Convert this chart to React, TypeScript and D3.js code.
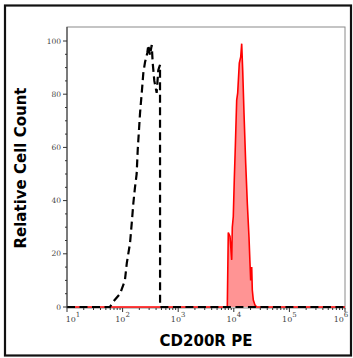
import React, { useEffect, useRef } from "react";
import * as d3 from "d3";

// isotype control (black dashed), fluorescence vs relative count
const isoX = [10, 59, 68, 90, 110, 119, 136, 146, 156, 167, 179, 187, 197, 206, 221, 236, 253, 278, 290, 311, 334, 348, 372, 410, 438, 471, 472, 1000000];
const isoY = [0, 0, 2, 5, 10, 16.5, 24, 31.5, 39, 45, 50, 59, 66.5, 73, 80.5, 88, 92, 95.5, 98.5, 94.7, 98.5, 91.7, 85, 80.5, 89, 91, 0, 0];

// CD200R PE stained (red filled)
const stainX = [10, 7640, 7960, 8550, 9170, 9400, 9790, 10200, 10640, 11270, 11750, 12560, 13310, 13870, 14460, 15250, 16370, 17500, 18760, 19550, 20120, 20990, 21520, 22440, 24060, 25800, 1000000];
const stainY = [0, 0, 28, 26.5, 17.7, 30, 34, 47.7, 60, 77.8, 80.5, 91.7, 94, 99, 89, 73, 54, 39, 26.3, 16.5, 10, 15, 6.4, 2.6, 0.7, 0, 0];

const xTicks = [10, 100, 1000, 10000, 100000, 1000000];
const yTicks = [0, 20, 40, 60, 80, 100];

const xTitle = "CD200R PE";
const yTitle = "Relative Cell Count";

const Chart = ({ width, height }: { width: number; height: number }) => {
  const svgRef = useRef<SVGSVGElement>(null);

  useEffect(() => {
    const svg = d3.select(svgRef.current);
    svg.selectAll("*").remove();

    const left = 67, right = 345, top = 27, bottom = 308;

    const x = d3.scaleLog().domain([10, 1e6]).range([left, right]);
    const y = d3.scaleLinear().domain([0, 100]).range([307, 41]);

    // outer border
    svg.append("rect")
      .attr("x", 5).attr("y", 5.5)
      .attr("width", 346).attr("height", 350)
      .attr("fill", "none").attr("stroke", "#111").attr("stroke-width", 2.2);

    // plot frame
    svg.append("rect")
      .attr("x", left).attr("y", top)
      .attr("width", right - left).attr("height", bottom - top)
      .attr("fill", "none").attr("stroke", "#8a8a8a").attr("stroke-width", 1);

    const line = d3.line<number>()
      .x((_, i) => x(stainX[i]))
      .y((d) => y(d));
    const area = d3.area<number>()
      .x((_, i) => x(stainX[i]))
      .y0(y(0))
      .y1((d) => y(d));

    svg.append("path").attr("d", area(stainY)).attr("fill", "#ff9494");
    svg.append("path").attr("d", line(stainY))
      .attr("fill", "none").attr("stroke", "#ff0000").attr("stroke-width", 1.6);

    const isoLine = d3.line<number>()
      .x((_, i) => x(isoX[i]))
      .y((d) => y(d));
    svg.append("path").attr("d", isoLine(isoY))
      .attr("fill", "none").attr("stroke", "#000")
      .attr("stroke-width", 2.2).attr("stroke-dasharray", "8,4.5");

    // left axis line
    svg.append("line")
      .attr("x1", left).attr("x2", left).attr("y1", top).attr("y2", bottom)
      .attr("stroke", "#333").attr("stroke-width", 1);

    // y ticks
    const yMinor = d3.range(0, 101, 5);
    svg.append("g").selectAll("line").data(yMinor).join("line")
      .attr("x1", (d) => (d % 20 === 0 ? left - 4 : left - 2))
      .attr("x2", left)
      .attr("y1", (d) => y(d)).attr("y2", (d) => y(d))
      .attr("stroke", "#333").attr("stroke-width", 1);
    svg.append("g").selectAll("text").data(yTicks).join("text")
      .attr("x", left - 6).attr("y", (d) => y(d) + 2.5)
      .attr("text-anchor", "end")
      .attr("font-family", "DejaVu Serif")
      .attr("font-size", 7.5).attr("fill", "#444")
      .text((d) => d);

    // x ticks
    const xMinor: number[] = [];
    for (let e = 1; e < 6; e++) for (let k = 1; k < 10; k++) xMinor.push(k * Math.pow(10, e));
    xMinor.push(1e6);
    svg.append("g").selectAll("line").data(xMinor).join("line")
      .attr("x1", (d) => x(d)).attr("x2", (d) => x(d))
      .attr("y1", bottom)
      .attr("y2", (d) => (xTicks.includes(d) ? bottom + 4 : bottom + 2))
      .attr("stroke", "#333").attr("stroke-width", 1);

    const xl = svg.append("g").selectAll("text").data(xTicks).join("text")
      .attr("x", (d, i) => x(d) + (i === 0 ? 6 : 0) - (i === xTicks.length - 1 ? 4 : 0))
      .attr("y", 322)
      .attr("text-anchor", "middle")
      .attr("font-family", "DejaVu Serif")
      .attr("font-size", 8).attr("fill", "#444");
    xl.append("tspan").text("10");
    xl.append("tspan").attr("dy", -5).attr("font-size", 7)
      .text((d) => Math.round(Math.log10(d)));

    // titles
    svg.append("text")
      .attr("x", 206).attr("y", 346)
      .attr("text-anchor", "middle")
      .attr("font-family", "DejaVu Sans").attr("font-weight", "bold")
      .attr("font-size", 15).attr("fill", "#000")
      .text(xTitle);
    svg.append("text")
      .attr("transform", `translate(26,168) rotate(-90)`)
      .attr("text-anchor", "middle")
      .attr("font-family", "DejaVu Sans").attr("font-weight", "bold")
      .attr("font-size", 15).attr("fill", "#000")
      .text(yTitle);
  }, [width, height]);

  return (
    <svg
      ref={svgRef}
      width={width}
      height={height}
      style={{ position: "absolute", left: 0, top: 0, background: "#fff" }}
    />
  );
};

export default function App() {
  return <Chart width={353} height={358} />;
}
